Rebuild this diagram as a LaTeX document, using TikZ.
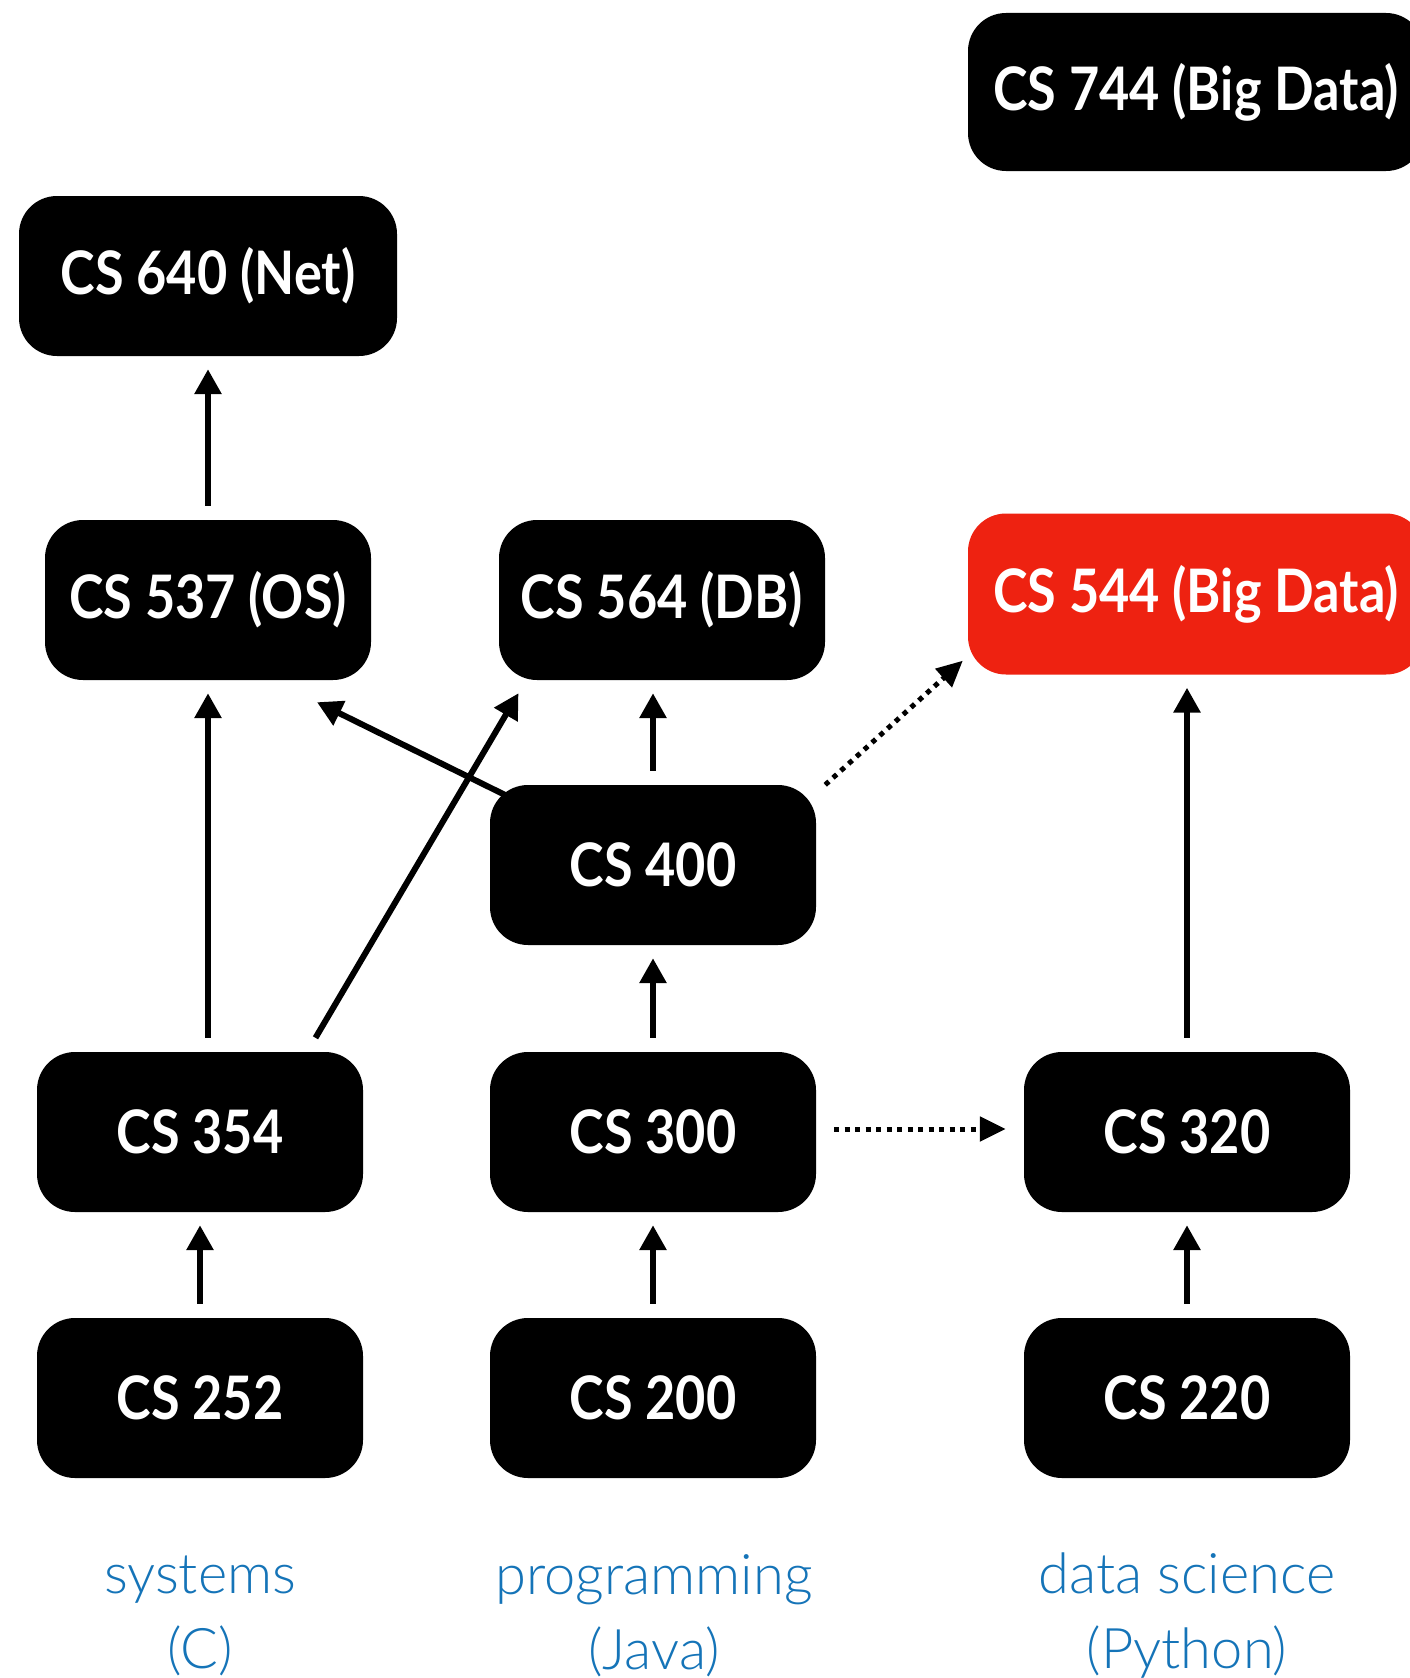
\documentclass[tikz,border=0pt]{standalone}
\usepackage{fontspec}
\setmainfont{Lato}
\newfontfamily\boxfont{Lato}[UprightFont=* Bold, FakeStretch=0.87]
\newfontfamily\labfont{Lato}[UprightFont=* Light]
\usetikzlibrary{arrows.meta,calc}
\definecolor{cblue}{HTML}{1574B8}
\definecolor{cred}{HTML}{EE2211}
\begin{document}
\begin{tikzpicture}[x=1pt,y=-1pt,
  course/.style={fill=black, rounded corners=38pt, minimum width=326pt, minimum height=160pt,
    inner sep=0pt, text=white, font=\boxfont\fontsize{60}{72}\selectfont},
  arr/.style={line width=6pt, -{Triangle[length=25pt,width=26pt]}, shorten <=14pt, shorten >=13pt},
  dotarr/.style={line width=5pt, dash pattern=on 5pt off 5.5pt, -{Triangle[length=26pt,width=24pt]}},
  track/.style={text=cblue, align=center, font=\labfont\fontsize{56}{75}\selectfont}]
\path[use as bounding box, clip] (0,0) rectangle (1410,1678);
\fill[white] (0,0) rectangle (1410,1678);

\node[course, minimum width=456pt, minimum height=158pt] (cs744) at (1196,92) {CS 744 (Big Data)};
\node[course, minimum width=378pt] (cs640) at (208,276) {CS 640 (Net)};
\node[course] (cs537) at (208,600) {CS 537 (OS)};
\node[course] (cs564) at (662,600) {CS 564 (DB)};
\node[course, fill=cred, minimum width=456pt, minimum height=161pt] (cs544) at (1196,594) {CS 544 (Big Data)};
\node[course] (cs400) at (653,865) {CS 400};
\node[course] (cs354) at (200,1132) {CS 354};
\node[course] (cs300) at (653,1132) {CS 300};
\node[course] (cs320) at (1187,1132) {CS 320};
\node[course] (cs252) at (200,1398) {CS 252};
\node[course] (cs200) at (653,1398) {CS 200};
\node[course] (cs220) at (1187,1398) {CS 220};

\node[track] (tsys) at (200,1616) {systems\\(C)};
\node[track] (tprog) at (654,1616) {programming\\(Java)};
\node[track] (tds) at (1187,1616) {data science\\(Python)};

\draw[arr] (cs537.north) -- (cs640.south);
\draw[arr] (cs354.north -| cs537.south) -- (cs537.south);
\draw[arr] (cs252) -- (cs354);
\draw[arr] (cs200) -- (cs300);
\draw[arr] (cs300) -- (cs400);
\draw[arr] (cs400.north) -- (cs400.north |- cs564.south);
\draw[arr] (cs220) -- (cs320);
\draw[arr] (cs320.north) -- (cs320.north |- cs544.south);
\draw[arr, shorten <=0pt, shorten >=0pt] ($(cs354.north)+(115.5,-14)$) -- ($(cs564.south)+(-143.5,13)$);
\draw[arr, shorten <=0pt, shorten >=0pt] ($(cs400.north west)+(15,10)$) -- ($(cs537.south)+(109,22)$);
\draw[dotarr] ($(cs400.north east)+(9,0)$) -- ($(cs544.south west)+(-5,-14)$);
\draw[dotarr, shorten <=18pt, shorten >=18pt] ($(cs300.east)+(0,-3)$) -- ($(cs320.west)+(0,-3)$);
\end{tikzpicture}
\end{document}
